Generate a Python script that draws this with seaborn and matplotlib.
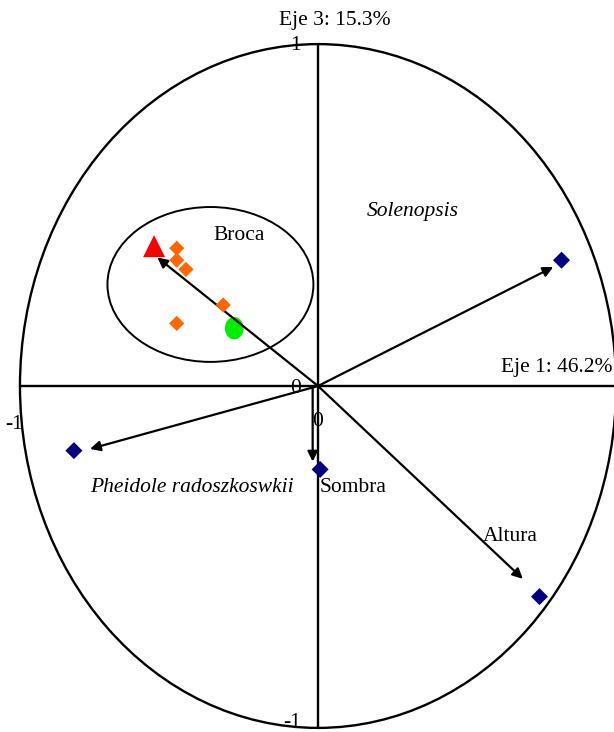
import matplotlib
matplotlib.use("Agg")
import matplotlib.pyplot as plt
import seaborn as sns
import pandas as pd
import numpy as np
from matplotlib.patches import Ellipse
from matplotlib.path import Path

# ---- data ----
var_names = ["Solenopsis", "Pheidole radoszkoswkii", "Sombra", "Altura", "Broca"]
arrow_x0 = [0.0, 0.0, -0.018, 0.0, 0.0]
arrow_y0 = [0.0, 0.0, 0.0, 0.0, 0.0]
arrow_x = [0.789, -0.765, -0.018, 0.687, -0.539]
arrow_y = [0.348, -0.184, -0.221, -0.564, 0.376]

species_x = [0.817, -0.819, 0.007, 0.743]
species_y = [0.368, -0.189, -0.244, -0.616]

broca_x = [-0.550]
broca_y = [0.409]

site_x = [-0.474, -0.474, -0.443, -0.318, -0.474]
site_y = [0.403, 0.368, 0.341, 0.237, 0.183]

green_x = [-0.281]
green_y = [0.169]

label_text = ["Broca", "Solenopsis", "Pheidole radoszkoswkii", "Sombra", "Altura"]
label_x = [-0.265, 0.319, -0.423, 0.117, 0.644]
label_y = [0.439, 0.509, -0.298, -0.298, -0.439]
label_italic = [False, True, True, False, False]

group_center = (-0.361, 0.297)
group_size = (0.691, 0.453)

tick_text = ["0", "0", "-1", "1", "-1"]
tick_x = [-0.074, 0.0, -1.02, -0.074, -0.087]
tick_y = [-0.006, -0.105, -0.114, 0.995, -0.985]

axis1_label = "Eje 1: 46.2%"
axis3_label = "Eje 3: 15.3%"

# ---- style ----
sns.set_style("white")
plt.rcParams["font.family"] = ["Liberation Serif", "DejaVu Serif"]
plt.rcParams["text.color"] = "black"

fig = plt.figure(figsize=(6.14, 7.32), dpi=100)
ax = fig.add_axes([0, 0, 1, 1])
ax.set_xlim(-1.067, 0.993)
ax.set_ylim(-1.012, 1.129)
ax.axis("off")

FS = 15.5

# unit circle
ax.add_patch(Ellipse((0, 0), 2, 2, fill=False, lw=1.7, ec="black", zorder=1))
# group ellipse
ax.add_patch(Ellipse(group_center, group_size[0], group_size[1], fill=False,
                     lw=1.4, ec="black", zorder=1))

# axes lines
ax.plot([-1, 1], [0, 0], color="black", lw=1.7, zorder=1)
ax.plot([0, 0], [-1, 1], color="black", lw=1.7, zorder=1)
# end ticks
ax.plot([-0.015, 0.015], [1, 1], color="black", lw=1.2)
ax.plot([-0.015, 0.015], [-1, -1], color="black", lw=1.2)

# arrows
for x0, y0, x, y in zip(arrow_x0, arrow_y0, arrow_x, arrow_y):
    ax.annotate("", xy=(x, y), xytext=(x0, y0),
                arrowprops=dict(arrowstyle="-|>", color="black", lw=1.6,
                                mutation_scale=15, shrinkA=0, shrinkB=0),
                zorder=3)

# points
df_sp = pd.DataFrame({"x": species_x, "y": species_y})
sns.scatterplot(data=df_sp, x="x", y="y", ax=ax, marker="D", s=75,
                color="#000080", edgecolor="none", zorder=4)
df_site = pd.DataFrame({"x": site_x, "y": site_y})
sns.scatterplot(data=df_site, x="x", y="y", ax=ax, marker="D", s=60,
                color="#FF6600", edgecolor="none", zorder=4)
df_b = pd.DataFrame({"x": broca_x, "y": broca_y})
sns.scatterplot(data=df_b, x="x", y="y", ax=ax, marker="^", s=250,
                color="#FF0000", edgecolor="none", zorder=4)
t = np.linspace(0, 2 * np.pi, 60)
ell = Path(np.column_stack([np.cos(t), 1.2 * np.sin(t)]))
df_g = pd.DataFrame({"x": green_x, "y": green_y})
sns.scatterplot(data=df_g, x="x", y="y", ax=ax, marker=ell, s=260,
                color="#00EE00", edgecolor="none", zorder=2)

# labels
for txt, x, y, it in zip(label_text, label_x, label_y, label_italic):
    ax.text(x, y, txt, ha="center", va="center", fontsize=FS, color="black",
            style="italic" if it else "normal", zorder=5)

for txt, x, y in zip(tick_text, tick_x, tick_y):
    ax.text(x, y, txt, ha="center", va="center", fontsize=FS, color="black",
            zorder=5)

ax.text(0.987, 0.053, axis1_label, ha="right", va="center", fontsize=FS,
        color="black")
ax.text(0.057, 1.070, axis3_label, ha="center", va="center", fontsize=FS,
        color="black")

ax.set_xlabel("")
ax.set_ylabel("")
fig.savefig("out.png", dpi=100)
